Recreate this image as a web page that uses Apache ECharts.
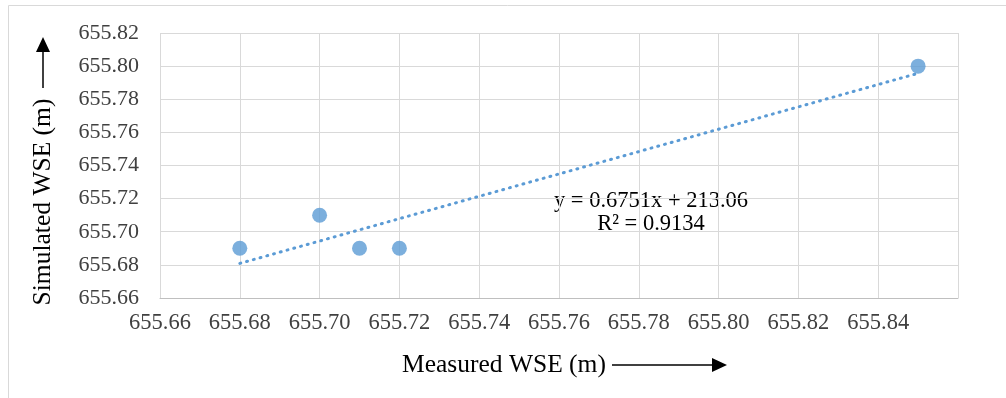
<!DOCTYPE html>
<html><head><meta charset="utf-8">
<script src="https://cdn.jsdelivr.net/npm/echarts@6/dist/echarts.min.js"></script>
<style>html,body{margin:0;padding:0;background:#fff}#c{width:1006px;height:398px}</style>
</head><body><div id="c"></div>
<script>
const measured = [655.68, 655.70, 655.71, 655.72, 655.85];
const simulated = [655.69, 655.71, 655.69, 655.69, 655.80];
const xTicks = [655.66, 655.86, 0.02];
const yTicks = [655.66, 655.82, 0.02];
const eqText = ['y = 0.6751x + 213.06', 'R² = 0.9134'];

// least-squares trendline from the data
const n = measured.length;
const mx = measured.reduce((a,b)=>a+b,0)/n, my = simulated.reduce((a,b)=>a+b,0)/n;
let sxy=0,sxx=0; for(let i=0;i<n;i++){sxy+=(measured[i]-mx)*(simulated[i]-my);sxx+=(measured[i]-mx)**2;}
const slope = sxy/sxx, icpt = my - slope*mx;
const x0 = Math.min(...measured), x1 = Math.max(...measured);
const trend = [[x0, icpt+slope*x0],[x1, icpt+slope*x1]];

const font = '"Liberation Serif","Times New Roman",serif';
const chart = echarts.init(document.getElementById('c'));
chart.setOption({
  animation:false,
  grid:{left:160,right:48,top:33,bottom:100},
  xAxis:{type:'value',min:xTicks[0],max:xTicks[1],interval:xTicks[2],
    axisLine:{show:true,lineStyle:{color:'#bfbfbf',width:1}},axisTick:{show:false},
    splitLine:{show:true,lineStyle:{color:'#d9d9d9',width:1}},
    axisLabel:{showMaxLabel:false,margin:14,color:'#404040',fontFamily:font,fontSize:22.5,formatter:v=>v.toFixed(2)}},
  yAxis:{type:'value',min:yTicks[0],max:yTicks[1],interval:yTicks[2],
    axisLine:{show:false},axisTick:{show:false},
    splitLine:{show:true,lineStyle:{color:'#d9d9d9',width:1}},
    axisLabel:{margin:21,color:'#404040',fontFamily:font,fontSize:22,formatter:v=>v.toFixed(2)}},
  series:[
    {type:'line',data:trend,symbol:'none',silent:true,
     lineStyle:{color:'#5b9bd5',width:3,type:[1,6],cap:'round'},z:2},
    {type:'scatter',data:measured.map((x,i)=>[x,simulated[i]]),symbolSize:15,
     itemStyle:{color:'#5b9bd5'},z:3}
  ],
  graphic:[
    {type:'rect',shape:{x:8.5,y:5.5,width:1100,height:500},style:{fill:'none',stroke:'#d9d9d9',lineWidth:1},silent:true},
    {type:'text',x:651,y:201,style:{text:eqText[0],font:'22.5px '+font,fill:'#000',align:'center',verticalAlign:'middle'}},
    {type:'text',x:651,y:224,style:{text:eqText[1],font:'22.5px '+font,fill:'#000',align:'center',verticalAlign:'middle'}},
    {type:'text',x:402,y:365,style:{text:'Measured WSE (m)',font:'25.5px '+font,fill:'#000',align:'left',verticalAlign:'middle'}},
    {type:'line',shape:{x1:612,y1:365,x2:714,y2:365},style:{stroke:'#000',lineWidth:1.5}},
    {type:'polygon',shape:{points:[[712,358],[727,365],[712,372]]},style:{fill:'#000'}},
    {type:'text',x:43,y:202,rotation:Math.PI/2,style:{text:'Simulated WSE (m)',font:'25.5px '+font,fill:'#000',align:'center',verticalAlign:'middle'}},
    {type:'line',shape:{x1:43,y1:88,x2:43,y2:50},style:{stroke:'#000',lineWidth:1.5}},
    {type:'polygon',shape:{points:[[36,52],[43,37],[50,52]]},style:{fill:'#000'}}
  ]
});
</script></body></html>
